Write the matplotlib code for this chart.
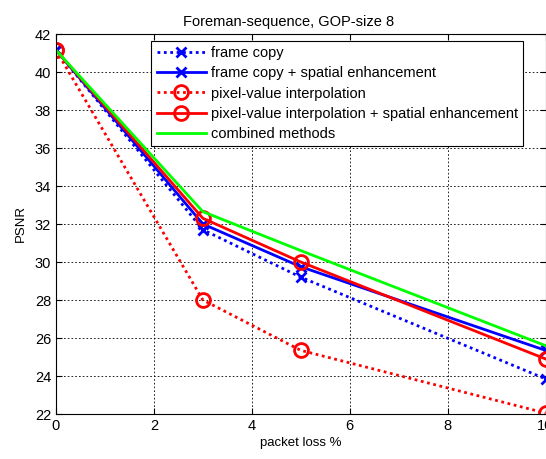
import matplotlib.pyplot as plt

plt.rcParams['font.family'] = ['Liberation Sans', 'DejaVu Sans']

# packet loss (%) and PSNR values
loss = [0, 3, 5, 10]
frame_copy = [41.15, 31.7, 29.2, 23.85]
frame_copy_spatial = [41.15, 32.0, 29.75, 25.35]
pixel_interp = [41.15, 28.0, 25.35, 22.05]
pixel_interp_spatial = [41.15, 32.3, 30.0, 24.9]
combined = [41.15, 32.65, 30.6, 25.6]

fig = plt.figure(figsize=(5.46, 4.59), dpi=100)
ax = fig.add_axes([56 / 546, 45 / 459, 489.5 / 546, 380 / 459])

dot = (0, (1, 1.3))
ax.plot(loss, frame_copy, color='#0000ff', ls=dot, lw=2, marker='x', ms=7, mew=2,
        label='frame copy')
ax.plot(loss, frame_copy_spatial, color='#0000ff', ls='-', lw=2, marker='x', ms=7, mew=2,
        label='frame copy + spatial enhancement')
ax.plot(loss, pixel_interp, color='#ff0000', ls=dot, lw=2, marker='o', ms=10, mew=2,
        mfc='none', label='pixel-value interpolation')
ax.plot(loss, pixel_interp_spatial, color='#ff0000', ls='-', lw=2, marker='o', ms=10, mew=2,
        mfc='none', label='pixel-value interpolation + spatial enhancement')
ax.plot(loss, combined, color='#00ff00', ls='-', lw=2, label='combined methods')

ax.set_xlim(0, 10)
ax.set_ylim(22, 42)
ax.set_xticks([0, 2, 4, 6, 8, 10])
ax.set_yticks(range(22, 43, 2))
ax.tick_params(direction='in', labelsize=10.5, length=4, top=True, right=True)
ax.grid(True, color='black', ls=(0, (2, 2.5)), lw=0.6)
for s in ax.spines.values():
    s.set_linewidth(0.8)

ax.set_xlabel('packet loss %', fontsize=9.5, labelpad=3)
ax.set_ylabel('PSNR', fontsize=9.5, labelpad=6)
ax.set_title('Foreman-sequence, GOP-size 8', fontsize=10.5, pad=6, x=0.475)

leg = ax.legend(loc='upper left', bbox_to_anchor=(0.195, 0.981), fontsize=10.5,
                fancybox=False, framealpha=1, edgecolor='black', handlelength=3.4,
                borderpad=0.35, labelspacing=0.42, handletextpad=0.35, borderaxespad=0)
leg.get_frame().set_linewidth(0.8)

fig.savefig('out.png', dpi=100)
